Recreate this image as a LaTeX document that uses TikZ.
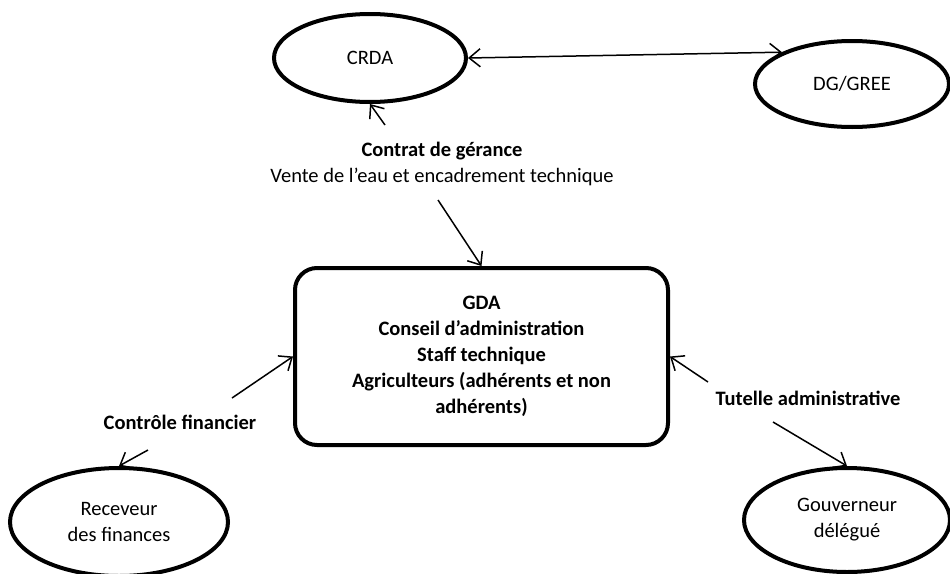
\documentclass[tikz,border=0pt]{standalone}
\usepackage{fontspec}
\setmainfont{Carlito}
\usetikzlibrary{shapes.geometric,arrows.meta}

\newlength{\du}
\setlength{\du}{1pt}

\begin{document}
\begin{tikzpicture}[even odd rule,
  barbe/.tip={Straight Barb[length=11pt,width=18pt]},
  acteur/.style={ellipse,draw,line width=4\du,inner sep=0pt,align=center},
  bloc/.style={rectangle,draw,line width=4\du,rounded corners=22\du,inner sep=0pt,align=center,font=\fontsize{20.5}{26}\selectfont\bfseries},
  fleche/.style={line width=1.5\du,-barbe},
  legende/.style={inner sep=0pt,outer sep=0pt,align=center},
  every node/.style={font=\fontsize{20.5}{26}\selectfont}]
\pgftransformxscale{1.000000}
\pgftransformyscale{-1.000000}
\useasboundingbox (0\du,0\du) rectangle (950\du,573\du);
% ellipses
\node[acteur,minimum width=192\du,minimum height=88\du] (crda) at (370\du,58\du){CRDA};
\node[acteur,minimum width=194\du,minimum height=86\du] (dggree) at (852\du,84\du){DG/GREE};
\node[acteur,minimum width=218\du,minimum height=108\du] (receveur) at (119\du,522\du){Receveur\\des finances};
\node[acteur,minimum width=206\du,minimum height=104\du] (gouverneur) at (847\du,520\du){Gouverneur\\délégué};
% GDA
\node[bloc,minimum width=373\du,minimum height=177\du] (gda) at (481.5\du,356.5\du){GDA\\Conseil d’administration\\Staff technique\\Agriculteurs (adhérents et non\\adhérents)};
% labels
\node[legende] (contrat) at (442\du,164\du){\textbf{Contrat de gérance}\\Vente de l’eau et encadrement technique};
\node[legende] (controle) at (180\du,422\du){\textbf{Contrôle financier}};
\node[legende] (tutelle) at (808\du,398\du){\textbf{Tutelle administrative}};
% free ends
\coordinate (crdaBas) at (385\du,125\du);
\coordinate (gdaHaut) at (438\du,200\du);
\coordinate (gdaGauche) at (232\du,398\du);
\coordinate (recHaut) at (148\du,450\du);
\coordinate (gdaDroite) at (708\du,382\du);
\coordinate (gouvHaut) at (773\du,422\du);
% arrows
\draw[fleche,barbe-barbe] (crda.east)--(dggree.north west);
\draw[fleche] (crdaBas)--(crda.south);
\draw[fleche] (gdaHaut)--(gda.north);
\draw[fleche] (gdaGauche)--(gda.west);
\draw[fleche] (recHaut)--(receveur.north);
\draw[fleche] (gdaDroite)--(gda.east);
\draw[fleche] (gouvHaut)--(gouverneur.north);
\end{tikzpicture}
\end{document}
